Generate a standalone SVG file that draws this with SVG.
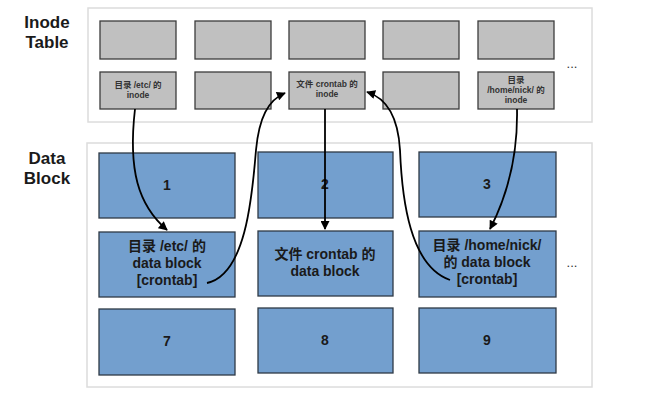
<svg xmlns="http://www.w3.org/2000/svg" width="671" height="406" viewBox="0 0 671 406">
<defs>
<marker id="ah" viewBox="0 0 10 10" refX="9" refY="5" markerWidth="10" markerHeight="9" markerUnits="userSpaceOnUse" orient="auto">
<path d="M0,0 L10,5 L0,10 z" fill="#000"/>
</marker>
</defs>
<style>
.panel{fill:#fff;stroke:#dcdcdc;stroke-width:1.5}
.inode{fill:#c0c0c0;stroke:#3c3c3c;stroke-width:1.3}
.blk{fill:#739fce;stroke:#2e3a46;stroke-width:1.3}
.t{font-family:"Liberation Sans","Noto Sans CJK SC",sans-serif;font-weight:bold;fill:#1a1a1a;text-anchor:middle}
.small{font-size:8.5px;fill:#333}
.big{font-size:14px}
.lab{font-size:17px;text-anchor:middle}
.dots{font-family:"Liberation Sans",sans-serif;font-size:13px;fill:#333;text-anchor:middle}
.c{fill:none;stroke:#000;stroke-width:1.8;marker-end:url(#ah)}
</style>
<rect width="671" height="406" fill="#fff"/>
<g id="labels">
<text class="t lab" x="47" y="28">Inode</text>
<text class="t lab" x="47" y="48">Table</text>
<text class="t lab" x="47" y="164">Data</text>
<text class="t lab" x="47" y="184">Block</text>
</g>
<rect class="panel" x="88" y="8" width="504" height="114"/>
<rect class="panel" x="87" y="143" width="505" height="244"/>
<g id="inode-r1c1"><rect class="inode" x="100" y="21" width="76" height="38"/></g>
<g id="inode-r1c2"><rect class="inode" x="195" y="21" width="76" height="38"/></g>
<g id="inode-r1c3"><rect class="inode" x="289" y="21" width="76" height="38"/></g>
<g id="inode-r1c4"><rect class="inode" x="383" y="21" width="76" height="38"/></g>
<g id="inode-r1c5"><rect class="inode" x="478" y="21" width="76" height="38"/></g>
<g id="inode-etc"><rect class="inode" x="100" y="72" width="76" height="37"/>
<text class="t small" x="138" y="88">目录 /etc/ 的</text>
<text class="t small" x="138" y="98">inode</text></g>
<g id="inode-r2c2"><rect class="inode" x="195" y="72" width="76" height="37"/></g>
<g id="inode-crontab"><rect class="inode" x="289" y="72" width="76" height="37"/>
<text class="t small" x="327" y="87">文件 crontab 的</text>
<text class="t small" x="327" y="97">inode</text></g>
<g id="inode-r2c4"><rect class="inode" x="383" y="72" width="76" height="37"/></g>
<g id="inode-nick"><rect class="inode" x="478" y="72" width="76" height="37"/>
<text class="t small" x="516" y="83">目录</text>
<text class="t small" x="516" y="93">/home/nick/ 的</text>
<text class="t small" x="516" y="103">inode</text></g>
<text class="dots" x="572" y="68">...</text>
<g id="blk1"><rect class="blk" x="99" y="153" width="136" height="65"/><text class="t big" x="167" y="190">1</text></g>
<g id="blk2"><rect class="blk" x="258" y="152" width="135" height="66"/><text class="t big" x="325" y="189">2</text></g>
<g id="blk3"><rect class="blk" x="419" y="152" width="137" height="65"/><text class="t big" x="487" y="189">3</text></g>
<g id="blk-etc"><rect class="blk" x="99" y="232" width="136" height="65"/>
<text class="t big" x="167" y="251">目录 /etc/ 的</text>
<text class="t big" x="167" y="268">data block</text>
<text class="t big" x="167" y="285">[crontab]</text></g>
<g id="blk-crontab"><rect class="blk" x="258" y="231" width="135" height="65"/>
<text class="t big" x="325" y="259">文件 crontab 的</text>
<text class="t big" x="325" y="276">data block</text></g>
<g id="blk-nick"><rect class="blk" x="419" y="231" width="137" height="66"/>
<text class="t big" x="487" y="250">目录 /home/nick/</text>
<text class="t big" x="487" y="267">的 data block</text>
<text class="t big" x="487" y="284">[crontab]</text></g>
<text class="dots" x="572" y="267">...</text>
<g id="blk7"><rect class="blk" x="99" y="309" width="136" height="66"/><text class="t big" x="167" y="346">7</text></g>
<g id="blk8"><rect class="blk" x="258" y="308" width="135" height="65"/><text class="t big" x="325" y="345">8</text></g>
<g id="blk9"><rect class="blk" x="419" y="308" width="137" height="65"/><text class="t big" x="487" y="345">9</text></g>
<g id="connectors">
<path class="c" d="M135,109 C128,170 138,205 167,230"/>
<path class="c" d="M207,283 C245,275 252,200 256,150 C259,118 268,100 285,93"/>
<path class="c" d="M325,109 L325,229"/>
<path class="c" d="M450,280 C410,266 402,200 400,150 C398,115 386,98 367,92"/>
<path class="c" d="M517,109 C518,160 505,200 490,229"/>
</g>
</svg>
